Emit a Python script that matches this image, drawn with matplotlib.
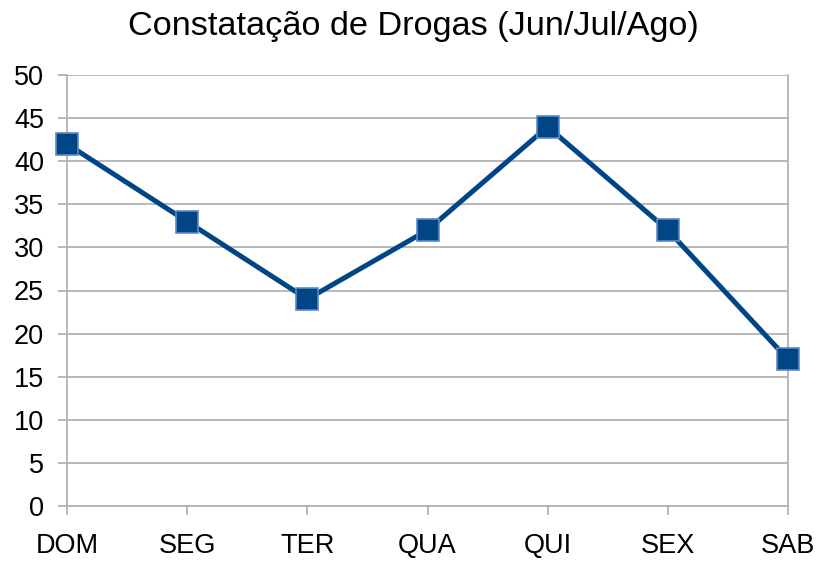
import matplotlib
matplotlib.use("Agg")
import matplotlib.pyplot as plt

categories = ["DOM", "SEG", "TER", "QUA", "QUI", "SEX", "SAB"]
values = [42, 33, 24, 32, 44, 32, 17]
yticks = [0, 5, 10, 15, 20, 25, 30, 35, 40, 45, 50]
title = "Constatação de Drogas (Jun/Jul/Ago)"

plt.rcParams['font.family'] = ['Liberation Sans', 'DejaVu Sans']
fig = plt.figure(figsize=(8.16, 5.63), dpi=100)
ax = fig.add_axes([67/816, 1-506/563, (788-67)/816, (506-75)/563])

x = list(range(len(categories)))
ax.plot(x, values, color='#004586', lw=3.6, marker='s', markersize=15.5,
        markerfacecolor='#004586', markeredgecolor='#5a8ac6', markeredgewidth=1.2,
        solid_joinstyle='miter', zorder=5, clip_on=False)

ax.set_xlim(0, len(categories)-1)
ax.set_ylim(0, 50)
ax.set_yticks(yticks)
ax.set_xticks(x)
ax.set_xticklabels(categories)
grid_c = '#b3b3b3'
ax.yaxis.grid(True, color=grid_c, lw=1.3)
ax.set_axisbelow(True)
for s in ['left', 'right', 'bottom']:
    ax.spines[s].set_color(grid_c)
    ax.spines[s].set_linewidth(1.3)
ax.spines['top'].set_visible(False)
ax.tick_params(axis='both', colors=grid_c, labelcolor='black', labelsize=19.5, width=1.3, length=6.5)
ax.tick_params(axis='y', pad=10)
ax.tick_params(axis='x', pad=13)
fig.text(413.5/816, 1-35/563, title, fontsize=24.7, ha='center', va='baseline')
fig.savefig("out.png", dpi=100)
